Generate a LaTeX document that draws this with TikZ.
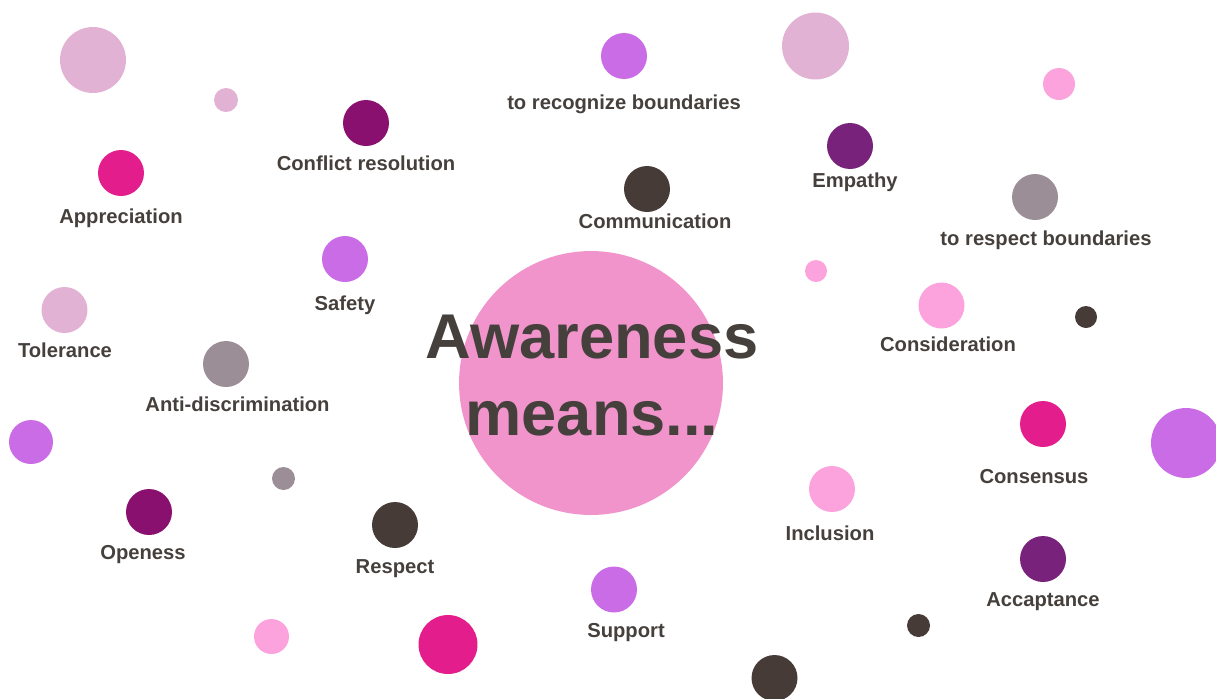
\documentclass[tikz,border=0pt]{standalone}
\usepackage{fontspec}
\setmainfont{Liberation Sans}
\usepackage{tikz}
\usetikzlibrary{positioning}

\definecolor{cMauve}{HTML}{E2B2D4}
\definecolor{cMagenta}{HTML}{E31E8C}
\definecolor{cPlum}{HTML}{8A1070}
\definecolor{cViolet}{HTML}{CA6CE6}
\definecolor{cBrown}{HTML}{463B37}
\definecolor{cGrey}{HTML}{9B8E96}
\definecolor{cPink}{HTML}{FCA3DD}
\definecolor{cPurple}{HTML}{79227B}
\definecolor{cHub}{HTML}{F194CC}
\definecolor{cText}{HTML}{45403C}

\tikzset{bubble/.style={circle, inner sep=0pt, draw=none, minimum size=#1*0.04cm}}
\tikzstyle{lbl}=[text=cText, inner sep=0pt, anchor=base,
  font=\bfseries\fontsize{11.5}{13}\selectfont]
\tikzstyle{hubtext}=[text=cText, inner sep=0pt, anchor=base,
  font=\bfseries\fontsize{36}{43}\selectfont]

\begin{document}
\begin{tikzpicture}[x=0.02cm, y=-0.02cm]
  \useasboundingbox (0,0) rectangle (1216,698);
  % centre bubble
  \node[bubble=132, fill=cHub] (hub) at (591,383) {};
  \node[hubtext] (aware) at (592,358) {Awareness};
  \node[hubtext] (means) at (592,435) {means...};
  % plain bubbles
  \node[bubble=33, fill=cMauve] (m1) at (93,60) {};
  \node[bubble=12, fill=cMauve] (m2) at (226,100) {};
  \node[bubble=33.5, fill=cMauve] (m3) at (815.5,46) {};
  \node[bubble=16, fill=cPink] (p1) at (1059,84) {};
  \node[bubble=11, fill=cPink] (p2) at (816,271) {};
  \node[bubble=11, fill=cBrown] (b1) at (1086,317) {};
  \node[bubble=22, fill=cViolet] (v1) at (31,442) {};
  \node[bubble=11.5, fill=cGrey] (g1) at (283.5,478.5) {};
  \node[bubble=35, fill=cViolet] (v2) at (1186,443) {};
  \node[bubble=17.5, fill=cPink] (p3) at (271.5,636.5) {};
  \node[bubble=29.5, fill=cMagenta] (r1) at (448,644.5) {};
  \node[bubble=11.5, fill=cBrown] (b2) at (918.5,625.5) {};
  \node[bubble=23, fill=cBrown] (b3) at (774.5,678) {};
  % labelled bubbles
  \node[bubble=23, fill=cPlum] (conflict) at (366,123) {};
  \node[lbl] (t-conflict) at (366,170) {Conflict resolution};
  \node[bubble=23, fill=cMagenta] (apprec) at (121,173) {};
  \node[lbl] (t-apprec) at (121,223) {Appreciation};
  \node[bubble=23, fill=cViolet] (recog) at (624,56) {};
  \node[lbl] (t-recog) at (624,109) {to recognize boundaries};
  \node[bubble=23, fill=cBrown] (comm) at (647,189) {};
  \node[lbl] (t-comm) at (655,228) {Communication};
  \node[bubble=23, fill=cPurple] (empathy) at (850,146) {};
  \node[lbl] (t-empathy) at (855,187) {Empathy};
  \node[bubble=23, fill=cGrey] (respb) at (1035,197) {};
  \node[lbl] (t-respb) at (1046,245) {to respect boundaries};
  \node[bubble=23, fill=cViolet] (safety) at (345,259) {};
  \node[lbl] (t-safety) at (345,310) {Safety};
  \node[bubble=23, fill=cMauve] (toler) at (64.5,310) {};
  \node[lbl] (t-toler) at (65,357) {Tolerance};
  \node[bubble=23, fill=cGrey] (antid) at (226,364) {};
  \node[lbl] (t-antid) at (237.5,411) {Anti-discrimination};
  \node[bubble=23, fill=cPink] (consid) at (941.5,305.5) {};
  \node[lbl] (t-consid) at (948,351) {Consideration};
  \node[bubble=23, fill=cPlum] (open) at (149,512) {};
  \node[lbl] (t-open) at (143,559) {Openess};
  \node[bubble=23, fill=cBrown] (respect) at (395,525) {};
  \node[lbl] (t-respect) at (395,573) {Respect};
  \node[bubble=23, fill=cPink] (incl) at (832,489) {};
  \node[lbl] (t-incl) at (830,540) {Inclusion};
  \node[bubble=23, fill=cMagenta] (consens) at (1043,424) {};
  \node[lbl] (t-consens) at (1034,483) {Consensus};
  \node[bubble=23, fill=cPurple] (accept) at (1043,559) {};
  \node[lbl] (t-accept) at (1043,606) {Accaptance};
  \node[bubble=23, fill=cViolet] (support) at (614,589.5) {};
  \node[lbl] (t-support) at (626,637) {Support};
\end{tikzpicture}
\end{document}
